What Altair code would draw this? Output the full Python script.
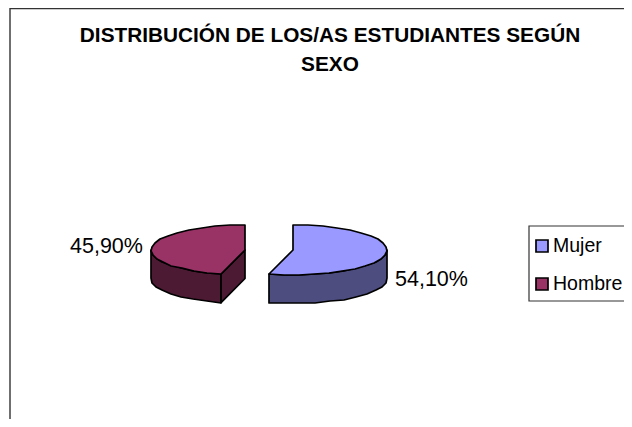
import numpy as np
import pandas as pd
import altair as alt

categories = ["Mujer", "Hombre"]
shares = [54.10, 45.90]
top_colors = ["#9999FF", "#993366"]
wall_colors = ["#4D4D80", "#4D1A33"]
share_labels = ["54,10%", "45,90%"]
title_lines = ["DISTRIBUCIÓN DE LOS/AS ESTUDIANTES SEGÚN", "SEXO"]

# Layout (page pixels minus the 8px body margin)
W, H = 616, 411
OFF = 8
centers = [(293 - OFF, 250 - OFF), (245 - OFF, 250 - OFF)]
RX, RY, DEPTH = 94, 25, 28.5


def ell(c, deg):
    a = np.radians(deg)
    return [c[0] + RX * np.sin(a), c[1] - RY * np.cos(a)]


def arc(c, a0, a1, dz=0.0):
    n = max(2, int(abs(a1 - a0) / 9) + 1)
    pts = [ell(c, a) for a in np.linspace(a0, a1, n)]
    return [[round(float(x)), round(float(y + dz))] for x, y in pts]


def feature(ring, fill):
    ring = ring + [ring[0]]
    return {"type": "Feature", "properties": {"fill": fill},
            "geometry": {"type": "Polygon", "coordinates": [ring]}}


ang = np.cumsum([0] + shares) * 3.6
features = []
for i in range(2):
    c = centers[i]
    a0, a1 = float(ang[i]), float(ang[i + 1])
    if i == 0:
        lo, hi = 90.0, a1
        w = arc(c, lo, hi) + arc(c, hi, lo, DEPTH)
        features.append(feature(w, wall_colors[i]))
    else:
        lo, hi = a0, 270.0
        w = arc(c, lo, hi) + arc(c, hi, lo, DEPTH)
        features.append(feature(w, wall_colors[i]))
        p = ell(c, a0)
        cut = [[c[0], c[1]], p, [p[0], p[1] + DEPTH], [c[0], c[1] + DEPTH]]
        features.append(feature([[float(x), float(y)] for x, y in cut], wall_colors[i]))
for i in range(2):
    c = centers[i]
    top = [[float(c[0]), float(c[1])]] + arc(c, float(ang[i]), float(ang[i + 1]))
    features.append(feature(top, top_colors[i]))

xpx = alt.X("x:Q", scale=None, axis=None)
ypx = alt.Y("y:Q", scale=None, axis=None)
FONT = "Liberation Sans"

frame = pd.DataFrame({"x": [2], "x2": [W + 30], "y": [0.5], "y2": [H + 30]})
frame_l = alt.Chart(frame).mark_rect(fill="white", stroke="#333333", strokeWidth=1.4).encode(
    x=xpx, x2="x2:Q", y=ypx, y2="y2:Q")

pie = alt.Chart(alt.Data(values=features)).mark_geoshape(
    stroke="black", strokeWidth=1.7, strokeJoin="round"
).encode(fill=alt.Fill("properties.fill:N", scale=None)).project(
    type="identity", scale=1, translate=[0, 0])

titles = pd.DataFrame({"t": title_lines, "x": [330 - OFF, 330 - OFF], "y": [35.5 - OFF, 65 - OFF]})
title_l = alt.Chart(titles).mark_text(font=FONT, fontSize=20.8, fontWeight="bold", color="black",
                                      align="center", baseline="middle").encode(x=xpx, y=ypx, text="t:N")

labels = pd.DataFrame({"t": share_labels, "x": [395 - OFF, 70 - OFF], "y": [280 - OFF, 247 - OFF]})
label_l = alt.Chart(labels).mark_text(font=FONT, fontSize=21.5, color="black",
                                      align="left", baseline="middle").encode(x=xpx, y=ypx, text="t:N")

box = pd.DataFrame({"x": [529 - OFF], "x2": [W + 30], "y": [226 - OFF], "y2": [301 - OFF]})
box_l = alt.Chart(box).mark_rect(fill="white", stroke="#333333", strokeWidth=1.2).encode(
    x=xpx, x2="x2:Q", y=ypx, y2="y2:Q")

leg = pd.DataFrame({"t": categories, "c": top_colors,
                    "x": [536 - OFF] * 2, "x2": [548 - OFF] * 2,
                    "y": [240 - OFF, 278 - OFF], "y2": [252 - OFF, 290 - OFF],
                    "tx": [553 - OFF] * 2, "ty": [246 - OFF, 284 - OFF]})
swatch = alt.Chart(leg).mark_rect(stroke="black", strokeWidth=1.7).encode(
    x=xpx, x2="x2:Q", y=ypx, y2="y2:Q", fill=alt.Fill("c:N", scale=None))
leg_text = alt.Chart(leg).mark_text(font=FONT, fontSize=19.5, color="black",
                                    align="left", baseline="middle").encode(
    x=alt.X("tx:Q", scale=None, axis=None), y=alt.Y("ty:Q", scale=None, axis=None), text="t:N")

chart = alt.layer(frame_l, pie, title_l, label_l, box_l, swatch, leg_text).properties(
    width=W, height=H, padding=0, autosize=alt.AutoSizeParams(type="none")
).configure_view(stroke=None)

chart.save("out.html", embed_options={"renderer": "svg", "actions": False})
